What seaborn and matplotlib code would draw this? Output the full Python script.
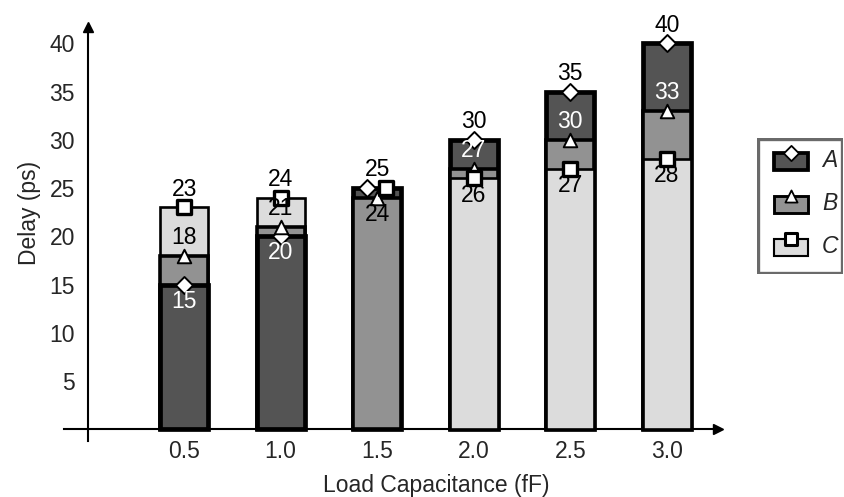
import numpy as np
import pandas as pd
import matplotlib
matplotlib.use('Agg')
import matplotlib.pyplot as plt
from matplotlib.colors import to_hex
from matplotlib.patches import Rectangle
import seaborn as sns

# data
cap = [0.5, 1.0, 1.5, 2.0, 2.5, 3.0]
delay_a = [15, 20, 25, 30, 35, 40]
delay_b = [18, 21, 24, 27, 30, 33]
delay_c = [23, 24, 25, 26, 27, 28]
series = ['A', 'B', 'C']

colors = {'A': '#545454', 'B': '#929292', 'C': '#dcdcdc'}
edge_lw = {'A': 3.4, 'B': 2.6, 'C': 1.9}
markers = {'A': 'D', 'B': '^', 'C': 's'}
msize = {'A': 75, 'B': 95, 'C': 105}

sns.set_theme(style='white')
plt.rcParams['font.family'] = ['Liberation Sans', 'DejaVu Sans']
FS = 16.5

df = pd.DataFrame({'cap': np.repeat(cap, 3),
                   'series': series * len(cap),
                   'delay': np.ravel(np.column_stack([delay_a, delay_b, delay_c]))})
# draw tallest first; ties: C below A
df['skey'] = df['series'].map({'A': 2, 'B': 1, 'C': 0})
df = df.sort_values(['cap', 'delay', 'skey'], ascending=[True, False, True])
df['rank'] = df.groupby('cap').cumcount()

fig = plt.figure(figsize=(8.44, 4.97), dpi=100)
ax = fig.add_axes([64/844, 1-440.7/497, (718-64)/844, (440.7-26.7)/497])

col2lw = {to_hex(c): edge_lw[s] for s, c in colors.items()}
for r in range(3):
    sub = df[df['rank'] == r]
    n0 = len(ax.patches)
    sns.barplot(data=sub, x='cap', y='delay', hue='series', hue_order=series,
                palette=colors, dodge=False, native_scale=True, width=0.5,
                saturation=1, errorbar=None, legend=False, edgecolor='black', ax=ax)
    for p in ax.patches[n0:]:
        p.set_linewidth(col2lw.get(to_hex(p.get_facecolor()), 2))
        p.set_zorder(2 + r)

# markers, shifted sideways when two series tie
offs = []
for _, row in df.iterrows():
    same = df[(df['cap'] == row['cap']) & (df['delay'] == row['delay'])]
    if len(same) > 1:
        offs.append({'A': -0.055, 'B': 0.0, 'C': 0.045}[row['series']])
    else:
        offs.append(0.0)
df['xm'] = df['cap'] + np.array(offs)
for s in series:
    sub = df[df['series'] == s]
    sns.scatterplot(data=sub, x='xm', y='delay', marker=markers[s], s=msize[s],
                    color='white', edgecolor='black',
                    linewidth=2.4 if s == 'C' else 1.4, zorder=10, ax=ax)

# value labels
for c in cap:
    sub = df[df['cap'] == c]
    vals = sorted(sub['delay'].unique())
    for i, v in enumerate(vals):
        if i == 0 and len(vals) > 1:
            dy, region = -12, sub[sub['delay'] == v]
        elif v == vals[-1]:
            dy, region = 13, sub.iloc[0:0]
        else:
            dy, region = 13, sub[sub['delay'] > v]
        if len(region):
            top = region.sort_values(['delay', 'skey'], ascending=[True, False]).iloc[0]['series']
            tc = 'white' if top == 'A' else 'black'
        else:
            tc = 'black'
        ax.annotate(str(v), (c, v), xytext=(0, dy), textcoords='offset points',
                    ha='center', va='center', fontsize=FS, color=tc, zorder=12)

# axes through the origin with arrow heads
ax.set_xlim(-0.122, 3.265)
ax.set_ylim(-1.18, 41.72)
for side in ['top', 'right']:
    ax.spines[side].set_visible(False)
ax.spines['left'].set_position(('data', 0))
ax.spines['bottom'].set_position(('data', 0))
for side in ['left', 'bottom']:
    ax.spines[side].set_linewidth(1.5)
    ax.spines[side].set_color('black')
ax.plot(1, 0, '>', color='black', ms=7, transform=ax.get_yaxis_transform(), clip_on=False)
ax.plot(0, 1, '^', color='black', ms=7, transform=ax.get_xaxis_transform(), clip_on=False)

ax.set_xticks(cap)
ax.set_xticklabels([f'{v:.1f}' for v in cap])
ax.set_yticks(range(5, 45, 5))
ax.tick_params(axis='both', direction='inout', length=12, width=1.6, color='black',
               labelsize=FS, pad=2)
ax.tick_params(axis='y', pad=3)
ax.set_xlabel('Load Capacitance (fF)', fontsize=FS, va='center')
ax.set_ylabel('Delay (ps)', fontsize=FS, va='center')
ax.xaxis.set_label_coords((436-64)/654, -0.108)
ax.yaxis.set_label_coords(-0.053, 0.55)
ax.grid(False)

# legend box drawn in its own small axes
lax = fig.add_axes([757/844, 1-274/497, (843-757)/844, (274-138)/497])
lax.set_xlim(0, 86)
lax.set_ylim(136, 0)
lax.axis('off')
lax.add_patch(Rectangle((1, 1), 84, 134, fill=False, edgecolor='#6a6a6a', lw=2.4))
for i, s in enumerate(series):
    yc = 23 + i * 43
    lax.add_patch(Rectangle((17, yc - 8), 34, 17, facecolor=colors[s], edgecolor='black',
                            lw=edge_lw[s] * 0.8))
    lax.scatter([34], [yc - 8], marker=markers[s], s=msize[s] * 0.8, color='white',
                edgecolors='black', linewidths=2.2 if s == 'C' else 1.3, zorder=5)
    lax.text(65, yc, s, fontsize=FS, style='italic', va='center', ha='left')

fig.savefig('out.png', dpi=100)
